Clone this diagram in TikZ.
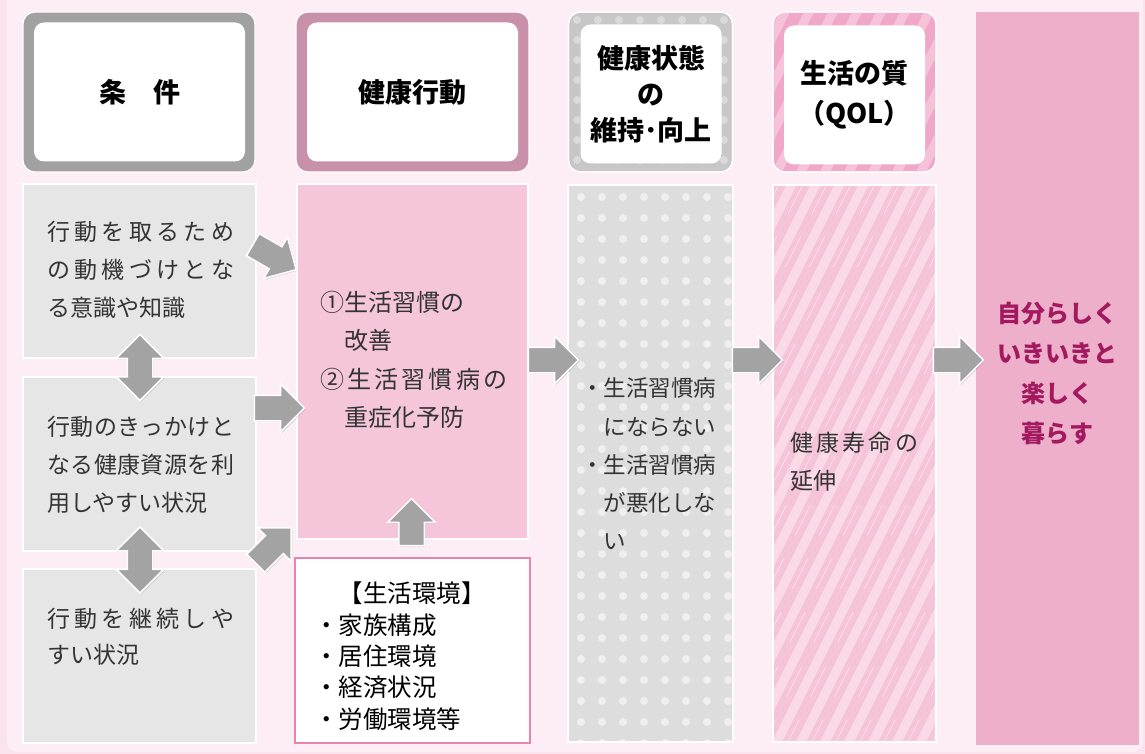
\documentclass[tikz,border=0pt]{standalone}
\usepackage{fontspec}
\newfontfamily\jp{Noto Sans CJK JP}
\usetikzlibrary{shapes.arrows,shadows}
\definecolor{pagebg}{HTML}{FAE3ED}
\definecolor{panelbg}{HTML}{FDEEF5}
\definecolor{frameA}{HTML}{A0A1A0}
\definecolor{frameB}{HTML}{C990AA}
\definecolor{frameC}{HTML}{C6C7C6}
\definecolor{frameD}{HTML}{F1A8C8}
\definecolor{frameDs}{HTML}{F6C2D9}
\definecolor{colE}{HTML}{EDAFC9}
\definecolor{boxA}{HTML}{E6E6E6}
\definecolor{boxB}{HTML}{F5C6DA}
\definecolor{boxC}{HTML}{DCDDDC}
\definecolor{dotC}{HTML}{EEEFEE}
\definecolor{dotH}{HTML}{D9DAD9}
\definecolor{boxD}{HTML}{F5C4D9}
\definecolor{stripeD}{HTML}{FADAE7}
\definecolor{envline}{HTML}{E883B0}
\definecolor{arrowc}{HTML}{A2A3A2}
\definecolor{magtext}{HTML}{A2195F}
\definecolor{bodytext}{HTML}{333333}
\def\spx#1{#1\futurelet\spnext\spy}
\def\spy{\ifx\spnext\relax\expandafter\spz\else\hfil\expandafter\spx\fi}
\def\spz\relax{}
\newcommand\jl[2]{\makebox[#1][s]{\spx#2\relax}}
\begin{document}
\begin{tikzpicture}[x=1pt,y=-1pt,
  hdrout/.style={rectangle, rounded corners=12pt, draw=white, line width=1.2pt, inner sep=0pt, minimum height=160pt},
  hdrin/.style={rectangle, rounded corners=10pt, fill=white, inner sep=0pt, minimum height=139pt, align=center,
     font=\jp\bfseries\fontsize{27}{36}\selectfont},
  lowbox/.style={rectangle, draw=white, line width=2pt, inner sep=0pt},
  bodytxt/.style={anchor=west, inner sep=0pt, align=left, text=bodytext},
  barrow/.style={single arrow, single arrow head extend=11pt, inner xsep=0pt, inner ysep=12pt,
     minimum height=50pt, fill=arrowc, draw=white, line width=1.5pt,
     drop shadow={shadow xshift=1.2pt, shadow yshift=-1.2pt, opacity=0.25}},
  dbarrow/.style={double arrow, double arrow head extend=11pt, inner xsep=0pt, inner ysep=12pt,
     minimum height=66pt, fill=arrowc, draw=white, line width=1.5pt,
     drop shadow={shadow xshift=1.2pt, shadow yshift=-1.2pt, opacity=0.25}}
]
\useasboundingbox (0,0) rectangle (1145,754);
\fill[pagebg] (0,0) rectangle (1145,754);
\fill[panelbg, rounded corners=10pt] (7,-12) rectangle (1143,752);

% ---------- headers ----------
\node[hdrout, fill=frameA, minimum width=232pt] (h1o) at (139,92) {};
\node[hdrin, minimum width=211pt] (h1) at (139.5,92) {条　件};
\node[hdrout, fill=frameB, minimum width=233pt] (h2o) at (412.5,92) {};
\node[hdrin, minimum width=211pt] (h2) at (412.5,92) {健康行動};

\node[hdrout, fill=frameC, minimum width=164pt] (h3o) at (650.5,92) {};
\begin{scope}
  \clip[rounded corners=12pt] (568.5,12) rectangle (732.5,172);
  \foreach \i in {0,...,7} \foreach \j in {0,...,8}
     \fill[dotH] (577+21*\i,20+20*\j) circle (4pt);
\end{scope}
\draw[white, line width=1.2pt, rounded corners=12pt] (568.5,12) rectangle (732.5,172);
\node[hdrin, minimum width=141pt] (h3) at (651,94) {健康状態\\の\\維持･向上};

\node[hdrout, fill=frameD, minimum width=163pt] (h4o) at (854.5,92) {};
\begin{scope}
  \clip[rounded corners=12pt] (773,12) rectangle (936,172);
  \foreach \i in {-5,...,8}
     \draw[frameDs, line width=9pt] (773+24*\i,180) -- ++(90,-180);
\end{scope}
\draw[white, line width=1.2pt, rounded corners=12pt] (773,12) rectangle (936,172);
\node[hdrin, minimum width=141pt, font=\jp\bfseries\fontsize{27}{40}\selectfont] (h4) at (854.5,95) {生活の質\\（QOL）};

% ---------- column 5 ----------
\node[rectangle, fill=colE, inner sep=0pt, minimum width=163pt, minimum height=733pt] (c5) at (1057.5,378.5) {};
\node[align=center, inner sep=0pt, text=magtext, font=\jp\bfseries\fontsize{24}{40}\selectfont] (c5t) at (1057.5,373)
  {自分らしく\\いきいきと\\楽しく\\暮らす};

% ---------- column 1 ----------
\node[lowbox, fill=boxA, minimum width=233pt, minimum height=174pt] (b1) at (139.5,271) {};
\node[lowbox, fill=boxA, minimum width=233pt, minimum height=174pt] (b2) at (139.5,464) {};
\node[lowbox, fill=boxA, minimum width=233pt, minimum height=174pt] (b3) at (139.5,656) {};
\node[bodytxt, font=\jp\fontsize{23}{38}\selectfont] (t1) at (47,270)
  {\jl{187pt}{行動を取るため}\\\jl{187pt}{の動機づけとな}\\る意識や知識};
\node[bodytxt, font=\jp\fontsize{23}{38}\selectfont] (t2) at (47,465)
  {\jl{187pt}{行動のきっかけと}\\\jl{187pt}{なる健康資源を利}\\用しやすい状況};
\node[bodytxt, font=\jp\fontsize{23}{36}\selectfont] (t3) at (47,637)
  {\jl{187pt}{行動を継続しや}\\すい状況};

% ---------- column 2 ----------
\node[lowbox, fill=boxB, minimum width=231pt, minimum height=355pt] (b4) at (412.5,361.5) {};
\node[rectangle, draw=envline, line width=2pt, fill=white, inner sep=0pt, minimum width=235pt, minimum height=185pt] (b5) at (412.5,650.5) {};
\node[bodytxt, font=\jp\fontsize{24}{38.5}\selectfont] (t4) at (320,360)
  {①生活習慣の\\\hspace*{1em}改善\\\jl{187pt}{②生活習慣病の}\\\hspace*{1em}重症化予防};
\node[inner sep=0pt, text=black, font=\jp\fontsize{24.5}{31}\selectfont] (t5h) at (412,593) {【生活環境】};
\node[bodytxt, text=black, font=\jp\fontsize{24.5}{31.3}\selectfont] (t5) at (314,672)
  {・家族構成\\・居住環境\\・経済状況\\・労働環境等};

% ---------- column 3 ----------
\node[rectangle, fill=boxC, inner sep=0pt, minimum width=165pt, minimum height=557pt] (b6) at (650.5,463.5) {};
\begin{scope}
  \clip (568,185) rectangle (733,742);
  \foreach \i in {0,...,7} \foreach \j in {0,...,26}
     \fill[dotC] (581+21*\i,197+21*\j) circle (4pt);
\end{scope}
\draw[white, line width=2pt] (b6.north west) rectangle (b6.south east);
\node[bodytxt, font=\jp\fontsize{22.5}{38.25}\selectfont] (t6) at (581,464)
  {・生活習慣病\\\hspace*{1em}にならない\\・生活習慣病\\\hspace*{1em}が悪化しな\\\hspace*{1em}い};

% ---------- column 4 ----------
\node[rectangle, fill=boxD, inner sep=0pt, minimum width=163pt, minimum height=557pt] (b7) at (854.5,463.5) {};
\begin{scope}
  \clip (773,185) rectangle (936,742);
  \foreach \i in {-14,...,8} {
     \draw[stripeD, line width=9pt] (773+24*\i,750) -- ++(300,-600);
     \draw[white, line width=0.4pt, opacity=0.8, dash pattern=on 34pt off 26pt] (784+24*\i,750) -- ++(300,-600);
  }
\end{scope}
\draw[white, line width=2pt] (b7.north west) rectangle (b7.south east);
\node[bodytxt, font=\jp\fontsize{23}{38}\selectfont] (t7) at (790,462)
  {\jl{128pt}{健康寿命の}\\延伸};

% ---------- arrows ----------
\node[barrow, rotate=-30] (a1) at (269,254) {};
\node[barrow] (a2) at (273,408) {};
\node[barrow, rotate=45] (a3) at (269,550) {};
\node[dbarrow, rotate=90] (d1) at (140,367.5) {};
\node[dbarrow, rotate=90] (d2) at (140,560) {};
\node[barrow, rotate=90, minimum height=47pt] (a4) at (411.5,528.5) {};
\node[barrow] (a5) at (547,360) {};
\node[barrow] (a6) at (751,360) {};
\node[barrow] (a7) at (952,360) {};
\end{tikzpicture}
\end{document}
